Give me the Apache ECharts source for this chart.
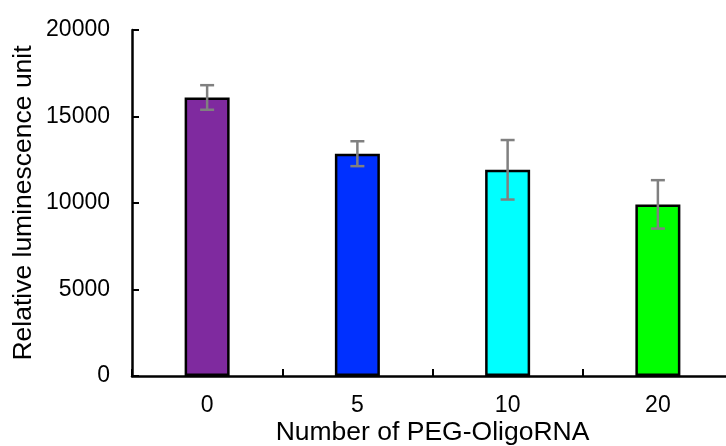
<!DOCTYPE html>
<html>
<head>
<meta charset="utf-8">
<script src="https://cdn.jsdelivr.net/npm/echarts@6/dist/echarts.min.js"></script>
<style>html,body{margin:0;padding:0;background:#fff;}#c{width:726px;height:446px;}</style>
</head>
<body>
<div id="c"></div>
<script>
const categories = ['0', '5', '10', '20'];
const values = [16100, 12850, 11920, 9920];
const errors = [710, 720, 1720, 1400];
const barColors = ['#7F2A9F', '#0030FF', '#00FFFF', '#00FF00'];
const yTicks = { min: 0, max: 20000, interval: 5000 };

const chart = echarts.init(document.getElementById('c'));
const font = 'Liberation Sans, Arial, sans-serif';
chart.setOption({
  animation: false,
  backgroundColor: '#ffffff',
  grid: { left: 132, top: 30, width: 601, bottom: 70, containLabel: false, outerBoundsMode: 'none' },
  xAxis: {
    type: 'category',
    data: categories,
    boundaryGap: true,
    name: 'Number of PEG-OligoRNA',
    nameLocation: 'middle',
    nameMoveOverlap: false,
    nameGap: 42,
    nameTextStyle: { fontFamily: font, fontSize: 26.5, color: '#000', verticalAlign: 'top', lineHeight: 30 },
    axisLine: { show: true, lineStyle: { color: '#000', width: 2.5 } },
    axisTick: { show: true, inside: true, length: 7, lineStyle: { color: '#000', width: 2 } },
    axisLabel: { fontFamily: font, fontSize: 23, color: '#000', margin: 18 },
    splitLine: { show: false }
  },
  yAxis: {
    type: 'value',
    min: yTicks.min, max: yTicks.max, interval: yTicks.interval,
    name: 'Relative luminescence unit',
    nameLocation: 'middle',
    nameMoveOverlap: false,
    nameRotate: 90,
    nameGap: 95,
    nameTextStyle: { fontFamily: font, fontSize: 26.5, color: '#000' },
    axisLine: { show: true, lineStyle: { color: '#000', width: 2.5 } },
    axisTick: { show: true, inside: true, length: 7, lineStyle: { color: '#000', width: 2 } },
    axisLabel: { fontFamily: font, fontSize: 23, color: '#000', margin: 22, formatter: (v) => String(v) },
    splitLine: { show: false }
  },
  series: [
    {
      type: 'bar',
      barWidth: 45,
      data: values.map((v, i) => ({ value: v, itemStyle: { color: barColors[i] } })),
      itemStyle: { borderColor: '#000', borderWidth: 2.5 },
      z: 2
    },
    {
      type: 'custom',
      z: 5,
      data: values.map((v, i) => [i, v - errors[i], v + errors[i]]),
      renderItem: function (params, api) {
        const x = api.value(0);
        const lo = api.coord([x, api.value(1)]);
        const hi = api.coord([x, api.value(2)]);
        const hw = 7;
        const style = { stroke: '#808080', lineWidth: 2.5, fill: null };
        return {
          type: 'group',
          children: [
            { type: 'line', shape: { x1: lo[0], y1: lo[1], x2: hi[0], y2: hi[1] }, style: style },
            { type: 'line', shape: { x1: hi[0] - hw, y1: hi[1], x2: hi[0] + hw, y2: hi[1] }, style: style },
            { type: 'line', shape: { x1: lo[0] - hw, y1: lo[1], x2: lo[0] + hw, y2: lo[1] }, style: style }
          ]
        };
      }
    }
  ]
});
</script>
</body>
</html>
